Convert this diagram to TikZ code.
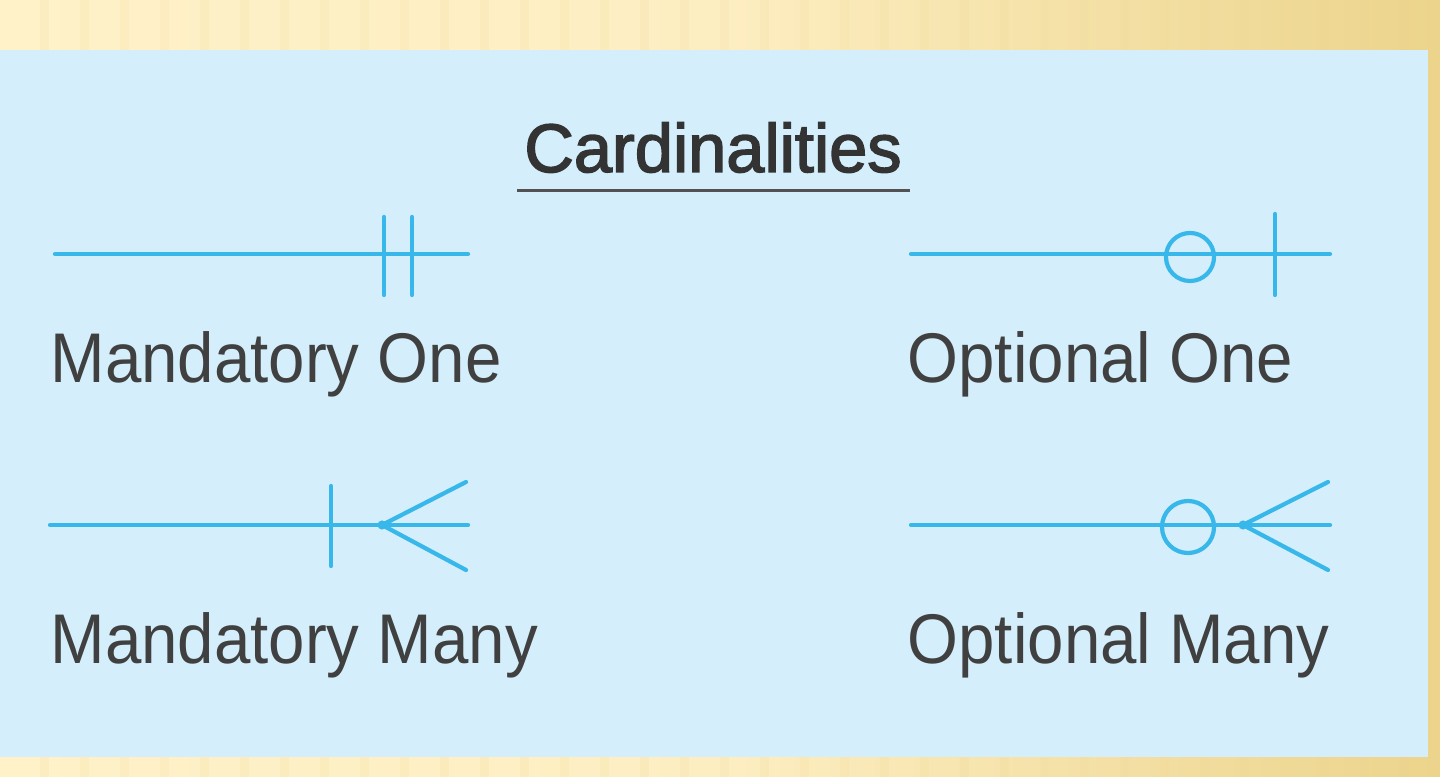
\documentclass[tikz,border=0pt]{standalone}
\usepackage{fontspec}
\setmainfont{Liberation Sans}
\newfontfamily\ttlfont[FakeBold=2.2]{Liberation Sans}
\definecolor{cream}{RGB}{255,241,200}
\definecolor{tan}{RGB}{236,212,140}
\definecolor{panel}{RGB}{212,239,251}
\definecolor{erblue}{RGB}{56,184,234}
\definecolor{txt}{RGB}{64,64,64}
\definecolor{ttl}{RGB}{51,51,51}
\tikzset{
  erline/.style={draw=erblue, line width=1.2pt, line cap=round},
  lbl/.style={anchor=base west, inner sep=0pt, text=txt, font=\fontsize{20}{24}\selectfont},
  ttlnode/.style={anchor=base, inner sep=0pt, text=ttl, font=\ttlfont\fontsize{19.5}{23}\selectfont},
}
\begin{document}
\begin{tikzpicture}[x=0.01cm,y=-0.01cm]
\useasboundingbox (0,0) rectangle (1440,777);
% background
\shade[left color=cream, right color=tan, middle color=cream!90!tan] (0,0) rectangle (1440,777);
\foreach \s in {40,80,120,160,200,240,280,320,360,400,440,480,520,560,600,640,680,720,760,800,840,880,920,960,1000,1040,1080,1120,1160,1200,1240,1280,1320,1360,1400}
  \fill[tan, opacity=0.13] (\s,0) rectangle ++(9,777);
\fill[panel] (0,50) rectangle (1428,757);
% title
\node[ttlnode] (title) at (713,172) {Cardinalities};
\draw[ttl!85, line width=1pt] (517,190.5) -- (910,190.5);
% ---- Mandatory One
\coordinate (mo1) at (55,254);
\coordinate (mo2) at (468,254);
\draw[erline] (mo1) -- (mo2);
\coordinate (moa1) at (384,217); \coordinate (moa2) at (384,295);
\coordinate (mob1) at (412,217); \coordinate (mob2) at (412,295);
\draw[erline] (moa1) -- (moa2);
\draw[erline] (mob1) -- (mob2);
\node[lbl] (lmo) at (50,383) {\scalebox{0.93}[1]{Mandatory One}};
% ---- Optional One
\coordinate (oo1) at (911,254);
\coordinate (oo2) at (1330,254);
\draw[erline] (oo1) -- (oo2);
\node[draw=erblue, line width=1.2pt, circle, minimum size=0.48cm, inner sep=0pt] (ooc) at (1190,257) {};
\coordinate (oob1) at (1275,214); \coordinate (oob2) at (1275,295);
\draw[erline] (oob1) -- (oob2);
\node[lbl] (loo) at (907,383) {\scalebox{0.93}[1]{Optional One}};
% ---- Mandatory Many
\coordinate (mm1) at (50,525);
\coordinate (mm2) at (468,525);
\draw[erline] (mm1) -- (mm2);
\coordinate (mmb1) at (331,486); \coordinate (mmb2) at (331,566);
\draw[erline] (mmb1) -- (mmb2);
\coordinate (mmx) at (382,525);
\coordinate (mmu) at (466,482);
\coordinate (mmd) at (466,570);
\draw[erline] (mmu) -- (mmx) -- (mmd);
\fill[erblue] (mmx) circle (1.3pt);
\node[lbl] (lmm) at (50,663) {\scalebox{0.93}[1]{Mandatory Many}};
% ---- Optional Many
\coordinate (om1) at (911,525);
\coordinate (om2) at (1330,525);
\draw[erline] (om1) -- (om2);
\node[draw=erblue, line width=1.2pt, circle, minimum size=0.52cm, inner sep=0pt] (omc) at (1188,527) {};
\coordinate (omx) at (1243,525);
\coordinate (omu) at (1328,482);
\coordinate (omd) at (1328,570);
\draw[erline] (omu) -- (omx) -- (omd);
\fill[erblue] (omx) circle (1.3pt);
\node[lbl] (lom) at (907,663) {\scalebox{0.93}[1]{Optional Many}};
\end{tikzpicture}
\end{document}
